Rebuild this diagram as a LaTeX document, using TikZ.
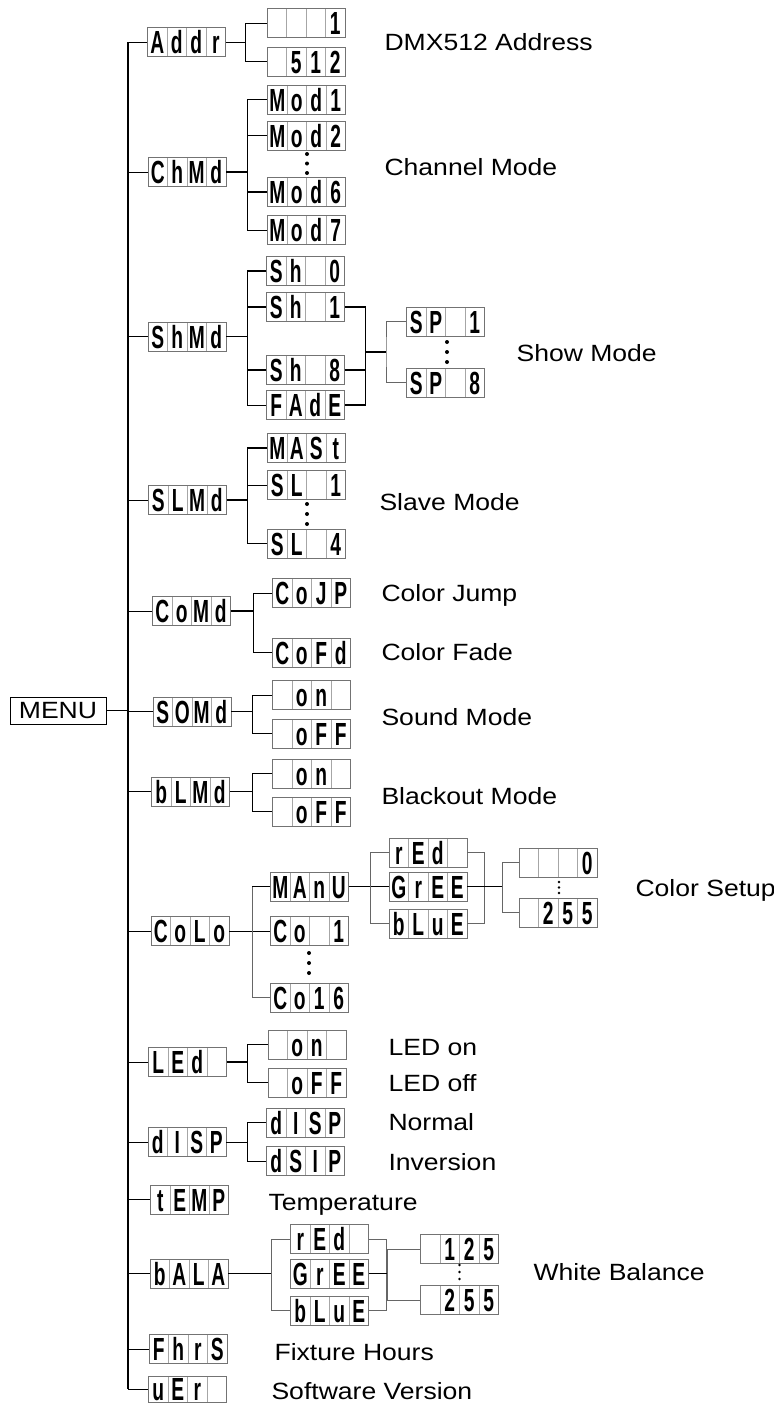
\documentclass[tikz,border=0pt]{standalone}
\usepackage{fontspec}
\setmainfont{Liberation Sans}
\newfontfamily\labelfont[FakeStretch=1.13]{Liberation Sans}
\newfontfamily\segfont[FakeStretch=0.6]{Liberation Sans}
\newcommand{\lcdtxt}[4]{\makebox[19.5pt]{#1}\makebox[19.5pt]{#2}\makebox[19.5pt]{#3}\makebox[19.5pt]{#4}}

\begin{document}
\begin{tikzpicture}[x=1pt,y=-1pt,
    lcd/.style={draw=black!55, line width=0.9pt, minimum width=78pt, minimum height=29pt, inner sep=0pt,
      text height=23pt, text depth=0pt, font=\segfont\bfseries\fontsize{32}{32}\selectfont,
      path picture={\foreach \k in {1,2,3}
        \draw[black!35, line width=0.6pt] ([xshift=\k*19.5pt]path picture bounding box.south west) -- ([xshift=\k*19.5pt]path picture bounding box.north west);}},
    txt/.style={anchor=base west, font=\labelfont\fontsize{23.5}{24}\selectfont},
    ln/.style={line width=0.9pt},
    tk/.style={line width=1.8pt},
    gln/.style={line width=0.9pt, black!60},
  ]
      \useasboundingbox (0,0) rectangle (774,1409);

      \coordinate (top) at (128,42);
      \coordinate (bot) at (128,1389);
      \draw[line width=2pt] (top) -- (bot);

      \node[draw=black, line width=0.9pt, minimum width=96pt, minimum height=27pt, inner sep=0pt,
        font=\labelfont\fontsize{23.5}{24}\selectfont] (menu) at (58,710.5) {MENU};
      \draw[ln] (menu) -- (menu -| top);

      \node[lcd] (addr) at (186.5,42) {\lcdtxt{A}{d}{d}{r}};
      \node[lcd] (chmd) at (187,172) {\lcdtxt{C}{h}{M}{d}};
      \node[lcd] (shmd) at (187,336.5) {\lcdtxt{S}{h}{M}{d}};
      \node[lcd] (slmd) at (187.5,500) {\lcdtxt{S}{L}{M}{d}};
      \node[lcd] (comd) at (191.5,611) {\lcdtxt{C}{o}{M}{d}};
      \node[lcd] (somd) at (192,711.5) {\lcdtxt{S}{O}{M}{d}};
      \node[lcd] (blmd) at (190.5,791.5) {\lcdtxt{b}{L}{M}{d}};
      \node[lcd] (colo) at (190,931) {\lcdtxt{C}{o}{L}{o}};
      \node[lcd] (led) at (187.5,1062) {\lcdtxt{L}{E}{d}{}};
      \node[lcd] (disp) at (187,1142) {\lcdtxt{d}{I}{S}{P}};
      \node[lcd] (temp) at (189.5,1199.5) {\lcdtxt{t}{E}{M}{P}};
      \node[lcd] (bala) at (189,1273.5) {\lcdtxt{b}{A}{L}{A}};
      \node[lcd] (fhrs) at (188,1349) {\lcdtxt{F}{h}{r}{S}};
      \node[lcd, minimum height=26pt] (ver) at (187.5,1389) {\lcdtxt{u}{E}{r}{}};
      \foreach \n in {addr,chmd,shmd,slmd,comd,somd,blmd,colo,led,disp,temp,bala,fhrs,ver}
        \draw[ln] (\n) -- (\n -| top);

      % Addr
      \node[lcd] (a1) at (306,23) {\lcdtxt{}{}{}{1}};
      \node[lcd] (a512) at (306,61.5) {\lcdtxt{}{5}{1}{2}};
      \draw[ln] (addr.east) -- ++(19.5,0) coordinate (addrj);
      \draw[ln] (a1.west) -| (addrj) |- (a512.west);
      \node[txt] (laddr) at (381,50) {DMX512 Address};

      % ChMd
      \node[lcd] (m1) at (306.5,99.5) {\lcdtxt{M}{o}{d}{1}};
      \node[lcd] (m2) at (306.5,135.5) {\lcdtxt{M}{o}{d}{2}};
      \node[lcd] (m6) at (306.5,192) {\lcdtxt{M}{o}{d}{6}};
      \node[lcd] (m7) at (306.5,230) {\lcdtxt{M}{o}{d}{7}};
      \draw[tk] (chmd.east) -- ++(21,0) coordinate (chj);
      \draw[ln] (m1.west -| chj) -- (m7.west -| chj);
      \draw[tk] (m1.west) -- (m1.west -| chj);
      \draw[tk] (m6.west) -- (m6.west -| chj);
      \foreach \n in {m2,m7} \draw[ln] (\n.west) -- (\n.west -| chj);
      \foreach \y in {154,163.5,173} \fill (307,\y) circle (2pt);
      \node[txt] (lchmd) at (381,175) {Channel Mode};

      % ShMd
      \node[lcd] (sh0) at (305.5,271) {\lcdtxt{S}{h}{}{0}};
      \node[lcd] (sh1) at (305.5,307) {\lcdtxt{S}{h}{}{1}};
      \node[lcd] (sh8) at (305.5,370) {\lcdtxt{S}{h}{}{8}};
      \node[lcd] (fade) at (305.5,405) {\lcdtxt{F}{A}{d}{E}};
      \node[lcd] (sp1) at (445.5,321.5) {\lcdtxt{S}{P}{}{1}};
      \node[lcd] (sp8) at (445.5,382.5) {\lcdtxt{S}{P}{}{8}};
      \draw[tk] (shmd.east) -- ++(21,0) coordinate (shj);
      \draw[ln] (sh0.west -| shj) -- (fade.west -| shj);
      \foreach \n in {sh0,sh1,sh8} \draw[tk] (\n.west) -- (\n.west -| shj);
      \draw[ln] (fade.west) -- (fade.west -| shj);
      \draw[tk] (sh1.east) -- ++(20.5,0) coordinate (shk) |- (fade.east);
      \draw[tk] (sh8.east) -- (sh8.east -| shk);
      \coordinate (spj) at (386,352);
      \draw[tk] (spj -| shk) -- (spj);
      \draw[gln] (sp1.west) -| (spj) |- (sp8.west);
      \foreach \y in {342,352,362} \fill (447,\y) circle (2pt);
      \node[txt] (lshmd) at (513,361) {Show Mode};

      % SLMd
      \node[lcd] (mast) at (306.5,448) {\lcdtxt{M}{A}{S}{t}};
      \node[lcd] (sl1) at (306.5,485) {\lcdtxt{S}{L}{}{1}};
      \node[lcd] (sl4) at (306.5,543.5) {\lcdtxt{S}{L}{}{4}};
      \draw[tk] (slmd.east) -- ++(20.5,0) coordinate (slj);
      \draw[ln] (mast.west -| slj) -- (sl4.west -| slj);
      \draw[tk] (mast.west) -- (mast.west -| slj);
      \foreach \n in {sl1,sl4} \draw[ln] (\n.west) -- (\n.west -| slj);
      \foreach \y in {504,514,524} \fill (307,\y) circle (2pt);
      \node[txt] (lslmd) at (376,510) {Slave Mode};

      % CoMd
      \node[lcd] (cojp) at (311.5,593) {\lcdtxt{C}{o}{J}{P}};
      \node[lcd] (cofd) at (311.5,652.5) {\lcdtxt{C}{o}{F}{d}};
      \draw[tk] (comd.east) -- ++(22.5,0) coordinate (coj);
      \draw[ln] (cojp.west) -| (coj) |- (cofd.west);
      \node[txt] (lcojp) at (378,601) {Color Jump};
      \node[txt] (lcofd) at (378,660) {Color Fade};

      % SOMd
      \node[lcd] (son) at (311.5,695) {\lcdtxt{}{o}{n}{}};
      \node[lcd] (soff) at (311.5,733.5) {\lcdtxt{}{o}{F}{F}};
      \draw[ln] (somd.east) -- ++(21,0) coordinate (soj);
      \draw[ln] (son.west) -| (soj) |- (soff.west);
      \node[txt] (lsomd) at (378,725) {Sound Mode};

      % bLMd
      \node[lcd] (bon) at (311.5,773.5) {\lcdtxt{}{o}{n}{}};
      \node[lcd] (boff) at (311.5,811.5) {\lcdtxt{}{o}{F}{F}};
      \draw[tk] (blmd.east) -- ++(22.5,0) coordinate (blj);
      \draw[ln] (bon.west) -| (blj) |- (boff.west);
      \node[txt] (lblmd) at (378,804) {Blackout Mode};

      % CoLo
      \node[lcd] (manu) at (309.5,886.5) {\lcdtxt{M}{A}{n}{U}};
      \node[lcd] (co1) at (309.5,931) {\lcdtxt{C}{o}{}{1}};
      \node[lcd] (co16) at (309.5,997.5) {\lcdtxt{C}{o}{1}{6}};
      \draw[ln] (colo.east) -- ++(23,0) coordinate (clj) -- (co1.west);
      \draw[gln] (manu.west -| clj) -- (co16.west -| clj);
      \draw[tk] (manu.west) -- (manu.west -| clj);
      \draw[gln] (co16.west) -- (co16.west -| clj);
      \foreach \y in {953,963,973} \fill (309,\y) circle (2pt);
      \node[lcd] (red) at (428,852.5) {\lcdtxt{r}{E}{d}{}};
      \node[lcd] (gree) at (428,886.5) {\lcdtxt{G}{r}{E}{E}};
      \node[lcd] (blue) at (428,923.5) {\lcdtxt{b}{L}{u}{E}};
      \draw[tk] (manu.east) -- ++(21.5,0) coordinate (mnj) -- (gree.west);
      \draw[gln] (red.west) -| (mnj) |- (blue.west);
      \draw[gln] (red.east) -- ++(17,0) coordinate (rbr) |- (blue.east);
      \node[lcd] (cs0) at (558,862.5) {\lcdtxt{}{}{}{0}};
      \node[lcd] (cs255) at (558,912.5) {\lcdtxt{}{2}{5}{5}};
      \draw[ln] (gree.east) -- ++(35,0) coordinate (grj);
      \draw[gln] (cs0.west) -| (grj) |- (cs255.west);
      \foreach \y in {882,887.5,893} \fill (559,\y) circle (1.4pt);
      \node[txt] (lcolo) at (632,896) {Color Setup};

      % LEd
      \node[lcd] (lon) at (307,1044.5) {\lcdtxt{}{o}{n}{}};
      \node[lcd] (loff) at (307,1082.5) {\lcdtxt{}{o}{F}{F}};
      \draw[tk] (led.east) -- ++(20.5,0) coordinate (lej);
      \draw[ln] (lon.west) -| (lej) |- (loff.west);
      \node[txt] (llon) at (385,1055) {LED on};
      \node[txt] (lloff) at (385,1091) {LED off};

      % dISP
      \node[lcd] (dn) at (305.5,1122.5) {\lcdtxt{d}{I}{S}{P}};
      \node[lcd] (di) at (305.5,1161) {\lcdtxt{d}{S}{I}{P}};
      \draw[ln] (disp.east) -- ++(20.5,0) coordinate (dij);
      \draw[ln] (dn.west) -| (dij) |- (di.west);
      \node[txt] (ldn) at (385,1130) {Normal};
      \node[txt] (ldi) at (385,1170) {Inversion};

      % tEMP
      \node[txt] (ltemp) at (265,1210) {Temperature};

      % bALA
      \node[lcd] (wred) at (329.5,1239) {\lcdtxt{r}{E}{d}{}};
      \node[lcd] (wgree) at (329.5,1273.5) {\lcdtxt{G}{r}{E}{E}};
      \node[lcd] (wblue) at (329.5,1310.5) {\lcdtxt{b}{L}{u}{E}};
      \draw[tk] (bala.east) -- ++(43,0) coordinate (baj);
      \draw[gln] (wred.west) -| (baj) |- (wblue.west);
      \draw[gln] (wred.east) -- ++(17,0) coordinate (wbr) |- (wblue.east);
      \node[lcd] (w125) at (459.5,1249) {\lcdtxt{}{1}{2}{5}};
      \node[lcd] (w255) at (459.5,1300) {\lcdtxt{}{2}{5}{5}};
      \draw[ln] (wgree.east) -- ++(18,0) coordinate (wgj);
      \draw[gln] (w125.west) -| (wgj) |- (w255.west);
      \foreach \y in {1265,1272,1279} \fill (459.5,\y) circle (1.4pt);
      \node[txt] (lbala) at (530,1280) {White Balance};

      % FhrS, uEr
      \node[txt] (lfhrs) at (271,1360) {Fixture Hours};
      \node[txt] (lver) at (268,1399) {Software Version};
    \end{tikzpicture}
\end{document}
